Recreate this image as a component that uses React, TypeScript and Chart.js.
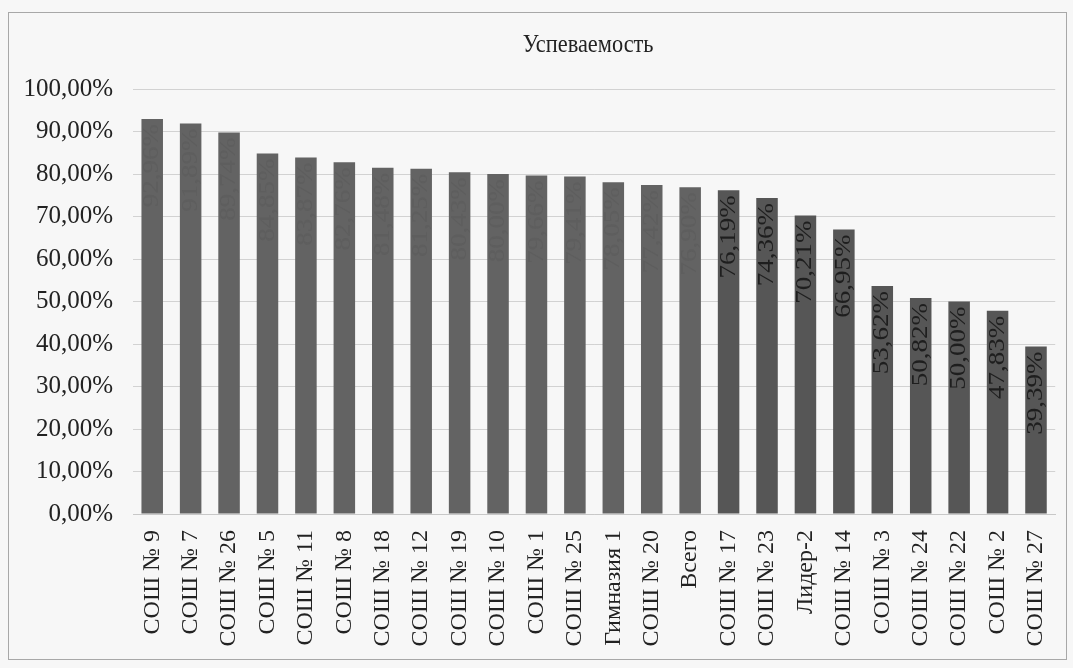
import React, { useEffect, useRef } from "react";
import { Chart, registerables } from "chart.js";

Chart.register(...registerables);

const chartTitle = "Успеваемость";
const categories = [
  "СОШ № 9", "СОШ № 7", "СОШ № 26", "СОШ № 5", "СОШ № 11", "СОШ № 8",
  "СОШ № 18", "СОШ № 12", "СОШ № 19", "СОШ № 10", "СОШ № 1", "СОШ № 25",
  "Гимназия 1", "СОШ № 20", "Всего", "СОШ № 17", "СОШ № 23", "Лидер-2",
  "СОШ № 14", "СОШ № 3", "СОШ № 24", "СОШ № 22", "СОШ № 2", "СОШ № 27",
];
const values = [
  92.96, 91.89, 89.74, 84.85, 83.87, 82.76,
  81.48, 81.25, 80.43, 80.0, 79.66, 79.41,
  78.05, 77.42, 76.9, 76.19, 74.36, 70.21,
  66.95, 53.62, 50.82, 50.0, 47.83, 39.39,
];
const yTicks = [0, 10, 20, 30, 40, 50, 60, 70, 80, 90, 100];

const fmt = (v: number) => v.toFixed(2).replace(".", ",") + "%";

const SERIF = "'Liberation Serif', 'DejaVu Serif', serif";

const framePlugin = {
  id: "frame",
  beforeDraw(chart: any) {
    const { ctx, width, height } = chart;
    ctx.save();
    ctx.fillStyle = "#f7f7f7";
    ctx.fillRect(0, 0, width, height);
    ctx.strokeStyle = "#a8a8a8";
    ctx.lineWidth = 1;
    ctx.strokeRect(8.5, 12.5, 1058, 647);
    ctx.restore();
  },
  afterDraw(chart: any) {
    const { ctx, chartArea } = chart;
    ctx.save();
    ctx.translate((chartArea.left + chartArea.right) / 2 - 6, 45);
    ctx.scale(0.86, 1);
    ctx.font = `26px ${SERIF}`;
    ctx.fillStyle = "#222";
    ctx.textAlign = "center";
    ctx.textBaseline = "middle";
    ctx.fillText(chartTitle, 0, 0);
    ctx.restore();
  },
};

const labelPlugin = {
  id: "barLabels",
  afterDatasetsDraw(chart: any) {
    const { ctx } = chart;
    const meta = chart.getDatasetMeta(0);
    ctx.save();
    ctx.font = `25px ${SERIF}`;
    ctx.textAlign = "right";
    ctx.textBaseline = "middle";
    meta.data.forEach((bar: any, i: number) => {
      const v = values[i];
      ctx.save();
      ctx.translate(bar.x, bar.y + 5);
      ctx.rotate(-Math.PI / 2);
      ctx.scale(1.08, 0.92);
      ctx.fillStyle = i < 15 ? "rgba(70,70,70,0.18)" : "#1e1e1e";
      ctx.fillText(fmt(v), 0, 0);
      ctx.restore();
    });
    ctx.restore();
  },
};

export default function App() {
  const ref = useRef<HTMLCanvasElement>(null);

  useEffect(() => {
    if (!ref.current) return;
    const chart = new Chart(ref.current, {
      type: "bar",
      data: {
        labels: categories,
        datasets: [
          {
            data: values,
            backgroundColor: (c: any) => (c.dataIndex < 15 ? "#636363" : "#565656"),
            borderWidth: 0,
            categoryPercentage: 1,
            barPercentage: 0.56,
          },
        ],
      },
      options: {
        responsive: false,
        animation: false,
        layout: { padding: { left: 20, right: 10, top: 89, bottom: 10 } },
        plugins: {
          legend: { display: false },
          tooltip: { enabled: false },
          title: { display: false },
        },
        scales: {
          x: {
            grid: { display: false },
            border: { display: true, color: "#c8c8c8" },
            ticks: {
              color: "#222",
              font: { family: SERIF, size: 24 },
              minRotation: 90,
              maxRotation: 90,
              autoSkip: false,
              padding: 8,
            },
            afterFit: (s: any) => {
              s.height = 144;
            },
          },
          y: {
            min: 0,
            max: 100,
            afterBuildTicks: (s: any) => {
              s.ticks = yTicks.map((v) => ({ value: v }));
            },
            grid: { color: "#d2d2d2", drawTicks: false },
            border: { display: false },
            ticks: {
              color: "#222",
              font: { family: SERIF, size: 25 },
              padding: 20,
              callback: (v: any) => `${v},00%`,
            },
            afterFit: (s: any) => {
              s.width = 113;
            },
          },
        },
      },
      plugins: [framePlugin, labelPlugin],
    });
    return () => chart.destroy();
  }, []);

  return (
    <div style={{ position: "fixed", left: 0, top: 0, width: 1073, height: 668 }}>
      <canvas ref={ref} width={1073} height={668} style={{ display: "block" }} />
    </div>
  );
}
